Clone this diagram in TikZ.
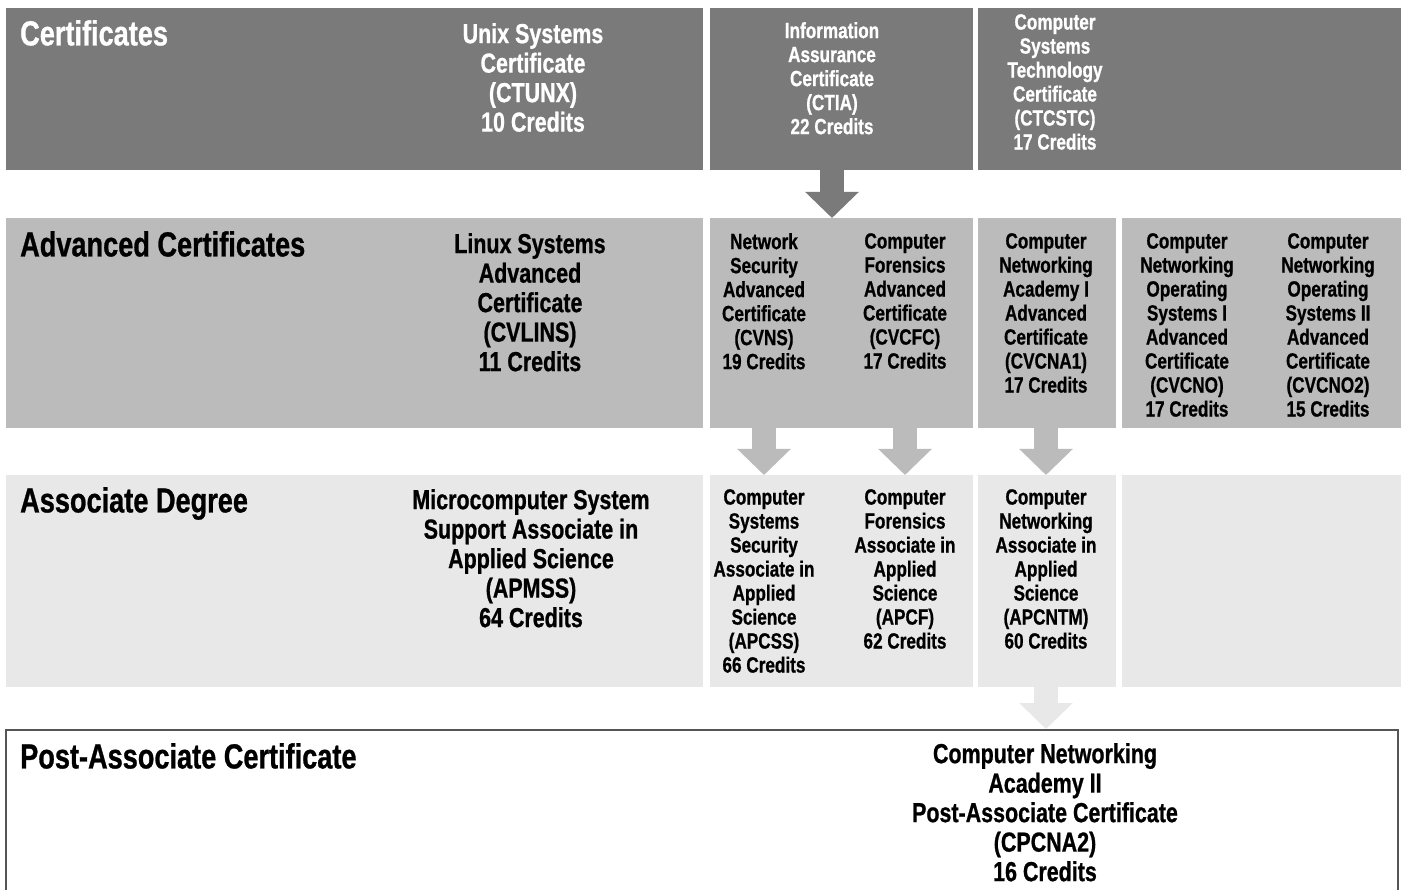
\documentclass[tikz,border=0pt]{standalone}
\usepackage{fontspec}
\setmainfont{Liberation Sans}[FakeStretch=0.78, BoldFont={Liberation Sans Bold}, BoldFeatures={FakeStretch=0.78, FakeBold=0.8}]
\usepackage{tikz}
\usetikzlibrary{arrows.meta}
\usetikzlibrary{positioning}

\definecolor{bandA}{HTML}{7A7A7A}
\definecolor{bandB}{HTML}{BBBBBB}
\definecolor{bandC}{HTML}{E8E8E8}
\definecolor{rim}{HTML}{555555}

\tikzset{
  band/.style={rectangle, inner sep=0pt, anchor=north west},
  heading/.style={anchor=north west, inner sep=0pt, font=\bfseries\fontsize{34.8}{36}\selectfont},
  bigtext/.style={anchor=north, inner sep=0pt, align=center, font=\bfseries\fontsize{27.5}{29.5}\selectfont},
  smalltext/.style={anchor=north, inner sep=0pt, align=center, font=\bfseries\fontsize{22}{24}\selectfont},
  flow/.style={line width=24pt, draw=#1, -{Triangle[width=52pt,length=26pt,fill=#1]}},
}

\begin{document}
\begin{tikzpicture}[x=1pt,y=-1pt]
    \clip (0,0) rectangle (1401,890);

    % bands
    \node[band, fill=bandA, minimum width=697, minimum height=162] (cert1) at (6,8) {};
    \node[band, fill=bandA, minimum width=263, minimum height=162] (cert2) at (710,8) {};
    \node[band, fill=bandA, minimum width=423, minimum height=162] (cert3) at (978,8) {};

    \node[band, fill=bandB, minimum width=697, minimum height=210] (adv1) at (6,218) {};
    \node[band, fill=bandB, minimum width=263, minimum height=210] (adv2) at (710,218) {};
    \node[band, fill=bandB, minimum width=138, minimum height=210] (adv3) at (978,218) {};
    \node[band, fill=bandB, minimum width=279, minimum height=210] (adv4) at (1122,218) {};

    \node[band, fill=bandC, minimum width=697, minimum height=212] (asc1) at (6,475) {};
    \node[band, fill=bandC, minimum width=263, minimum height=212] (asc2) at (710,475) {};
    \node[band, fill=bandC, minimum width=138, minimum height=212] (asc3) at (978,475) {};
    \node[band, fill=bandC, minimum width=279, minimum height=212] (asc4) at (1122,475) {};

    \node[band, draw=rim, line width=1.5pt, minimum width=1392, minimum height=200] (post) at (5,729) {};

    % headings
    \node[heading, text=white] (hcert) at (20,20) {Certificates};
    \node[heading] (hadv) at (20,231) {Advanced Certificates};
    \node[heading] (hasc) at (20,487) {Associate Degree};
    \node[heading] (hpost) at (20,743) {Post-Associate Certificate};

    % programs
    \node[bigtext, text=white] (ctunx) at (533,23) {Unix Systems\\Certificate\\(CTUNX)\\10 Credits};
    \node[smalltext, text=white] (ctia) at (832,22) {Information\\Assurance\\Certificate\\(CTIA)\\22 Credits};
    \node[smalltext, text=white] (ctcstc) at (1055,14) {Computer\\Systems\\Technology\\Certificate\\(CTCSTC)\\17 Credits};

    \node[bigtext] (cvlins) at (530,233) {Linux Systems\\Advanced\\Certificate\\(CVLINS)\\11 Credits};
    \node[smalltext] (cvns) at (764,233) {Network\\Security\\Advanced\\Certificate\\(CVNS)\\19 Credits};
    \node[smalltext] (cvcfc) at (905,233) {Computer\\Forensics\\Advanced\\Certificate\\(CVCFC)\\17 Credits};
    \node[smalltext] (cvcna) at (1046,233) {Computer\\Networking\\Academy I\\Advanced\\Certificate\\(CVCNA1)\\17 Credits};
    \node[smalltext] (cvcno) at (1187,233) {Computer\\Networking\\Operating\\Systems I\\Advanced\\Certificate\\(CVCNO)\\17 Credits};
    \node[smalltext] (cvcnotwo) at (1328,233) {Computer\\Networking\\Operating\\Systems II\\Advanced\\Certificate\\(CVCNO2)\\15 Credits};

    \node[bigtext] (apmss) at (531,489) {Microcomputer System\\Support Associate in\\Applied Science\\(APMSS)\\64 Credits};
    \node[smalltext] (apcss) at (764,489) {Computer\\Systems\\Security\\Associate in\\Applied\\Science\\(APCSS)\\66 Credits};
    \node[smalltext] (apcf) at (905,489) {Computer\\Forensics\\Associate in\\Applied\\Science\\(APCF)\\62 Credits};
    \node[smalltext] (apcntm) at (1046,489) {Computer\\Networking\\Associate in\\Applied\\Science\\(APCNTM)\\60 Credits};

    \node[bigtext] (cpcna) at (1045,743) {Computer Networking\\Academy II\\Post-Associate Certificate\\(CPCNA2)\\16 Credits};

    % arrows
    \draw[flow=bandA] (ctia.south |- cert2.south) -- (ctia.south |- adv2.north);
    \draw[flow=bandB] (cvns.south |- adv2.south) -- (cvns.south |- asc2.north);
    \draw[flow=bandB] (cvcfc.south |- adv2.south) -- (cvcfc.south |- asc2.north);
    \draw[flow=bandB] (cvcna.south |- adv3.south) -- (cvcna.south |- asc3.north);
    \draw[flow=bandC] (apcntm.south |- asc3.south) -- (apcntm.south |- post.north);
\end{tikzpicture}
\end{document}
